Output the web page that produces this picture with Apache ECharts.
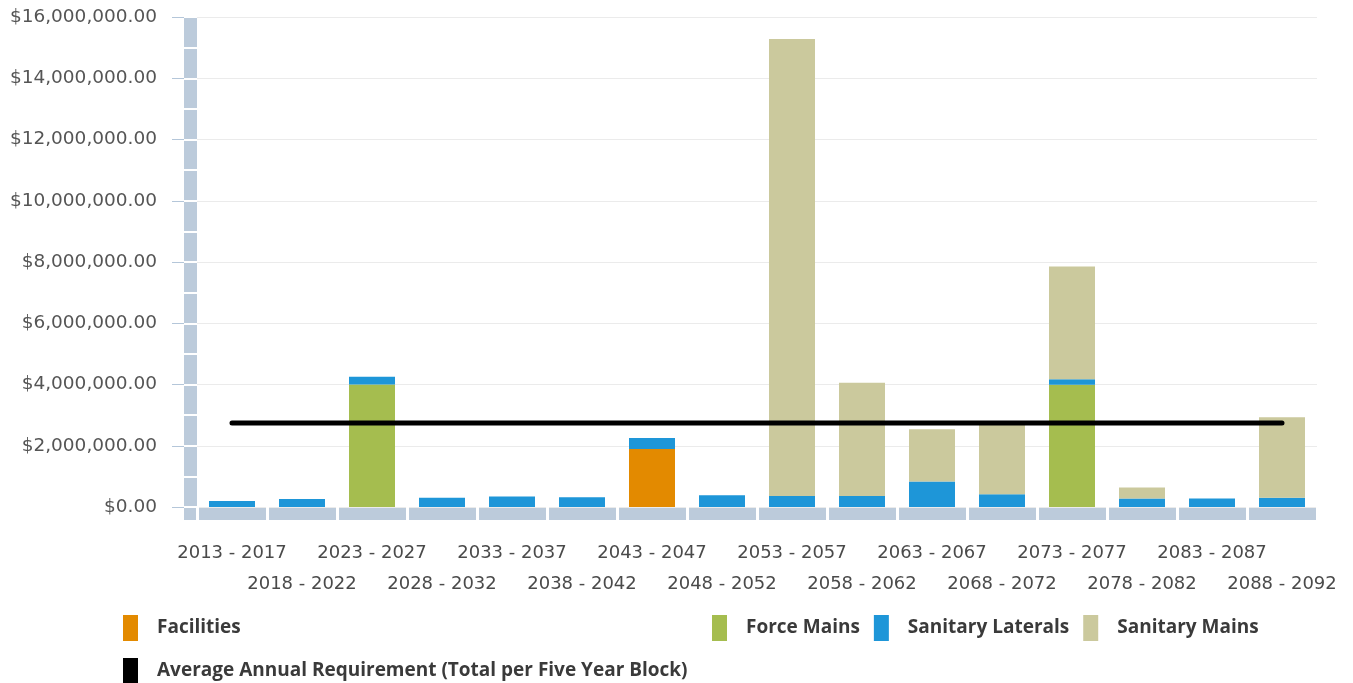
<!DOCTYPE html>
<html>
<head>
<meta charset="utf-8">
<script src="https://cdn.jsdelivr.net/npm/echarts@6/dist/echarts.min.js"></script>
<style>
  html, body { margin: 0; padding: 0; background: #fff; }
  #chart { width: 1353px; height: 683px; }
</style>
</head>
<body>
<div id="chart"></div>
<script>
  var periods = ['2013 - 2017', '2018 - 2022', '2023 - 2027', '2028 - 2032', '2033 - 2037', '2038 - 2042',
    '2043 - 2047', '2048 - 2052', '2053 - 2057', '2058 - 2062', '2063 - 2067', '2068 - 2072',
    '2073 - 2077', '2078 - 2082', '2083 - 2087', '2088 - 2092']
  var facilities = [0, 0, 0, 0, 0, 0, 1890000, 0, 0, 0, 0, 0, 0, 0, 0, 0]
  var forceMains = [0, 0, 4000000, 0, 0, 0, 0, 0, 0, 0, 0, 0, 3990000, 0, 0, 0]
  var sanitaryLaterals = [200000, 260000, 250000, 300000, 340000, 320000, 360000, 380000,
    360000, 360000, 830000, 420000, 180000, 280000, 280000, 300000]
  var sanitaryMains = [0, 0, 0, 0, 0, 0, 0, 0, 14920000, 3700000, 1710000, 2380000, 3680000, 360000, 0, 2630000]
  var averageReq = [2740000, 2740000, 2740000, 2740000, 2740000, 2740000, 2740000, 2740000,
    2740000, 2740000, 2740000, 2740000, 2740000, 2740000, 2740000, 2740000]

  var wallColor = '#bccbdb'

  function money(v) {
    return '$' + v.toFixed(2).replace(/\B(?=(\d{3})+(?!\d))/g, ',')
  }

  var chart = echarts.init(document.getElementById('chart'))

  var legendText = {
    fontFamily: 'Open Sans',
    fontWeight: 'bold',
    fontSize: 19,
    color: '#3a3a3a',
    padding: [0, 0, 0, 14]
  }

  var option = {
    animation: false,
    legend: [
      { data: ['Facilities'], left: 118, top: 610, icon: 'rect', itemWidth: 15, itemHeight: 26, textStyle: legendText, selectedMode: false },
      { data: ['Force Mains', 'Sanitary Laterals', 'Sanitary Mains'], left: 707, top: 610, icon: 'rect', itemWidth: 15, itemHeight: 26, itemGap: 14, textStyle: legendText, selectedMode: false },
      { data: ['Average Annual Requirement (Total per Five Year Block)'], left: 118, top: 653, icon: 'rect', itemWidth: 15, itemHeight: 26, textStyle: legendText, selectedMode: false }
    ],
    grid: [
      // main plot
      { left: 197, right: 36, top: 17, bottom: 176 },
      // wall (left strip)
      { left: 184, width: 13, top: 17, height: 490, show: true, backgroundColor: wallColor, borderWidth: 0 },
      { left: 184, width: 13, top: 508, height: 12, show: true, backgroundColor: wallColor, borderWidth: 0 },
      // floor
      { left: 197, width: 1120, top: 507, height: 13, show: true, backgroundColor: wallColor, borderWidth: 0 }
    ],
    xAxis: [
      {
        gridIndex: 0,
        type: 'category',
        data: periods,
        axisLine: { show: false },
        axisTick: { show: false },
        axisLabel: {
          interval: 0,
          margin: 31,
          lineHeight: 31,
          fontFamily: 'DejaVu Sans',
          fontSize: 18,
          color: '#4a4a4a',
          formatter: function (value, index) {
            return index % 2 ? '\n' + value : value
          }
        }
      },
      { gridIndex: 1, type: 'category', data: ['w'], show: false },
      { gridIndex: 2, type: 'category', data: ['w'], show: false },
      {
        gridIndex: 3,
        type: 'category',
        data: periods,
        axisLine: { show: false },
        axisTick: { show: false },
        axisLabel: { show: false },
        splitLine: { show: true, interval: 0, lineStyle: { color: '#fff', width: 3 } }
      }
    ],
    yAxis: [
      {
        gridIndex: 0,
        type: 'value',
        min: 0,
        max: 16000000,
        interval: 2000000,
        offset: 13,
        axisLine: { show: false },
        axisTick: { show: true, length: 12, lineStyle: { color: '#b4c6d9' } },
        axisLabel: {
          margin: 27,
          fontFamily: 'DejaVu Sans',
          fontSize: 18.5,
          color: '#555',
          formatter: money
        },
        splitLine: { lineStyle: { color: '#ebebeb', width: 1 } }
      },
      {
        gridIndex: 1,
        type: 'value',
        min: 0,
        max: 16,
        interval: 1,
        axisLine: { show: false },
        axisTick: { show: false },
        axisLabel: { show: false },
        splitLine: { show: true, lineStyle: { color: '#fff', width: 2 } }
      },
      { gridIndex: 2, type: 'value', show: false, splitLine: { show: false } },
      { gridIndex: 3, type: 'value', show: false, splitLine: { show: false } }
    ],
    series: [
      {
        name: 'Facilities', type: 'bar', stack: 'total', barWidth: 46,
        itemStyle: { color: '#e38a00' }, data: facilities
      },
      {
        name: 'Force Mains', type: 'bar', stack: 'total', barWidth: 46,
        itemStyle: { color: '#a5bd4f' }, data: forceMains
      },
      {
        name: 'Sanitary Laterals', type: 'bar', stack: 'total', barWidth: 46,
        itemStyle: { color: '#1e96d8' }, data: sanitaryLaterals
      },
      {
        name: 'Sanitary Mains', type: 'bar', stack: 'total', barWidth: 46,
        itemStyle: { color: '#cbc99d' }, data: sanitaryMains
      },
      {
        name: 'Average Annual Requirement (Total per Five Year Block)',
        type: 'line',
        z: 5,
        symbol: 'none',
        itemStyle: { color: '#000' },
        lineStyle: { color: '#000', width: 5, cap: 'round' },
        data: averageReq
      }
    ]
  }

  chart.setOption(option)
</script>
</body>
</html>
